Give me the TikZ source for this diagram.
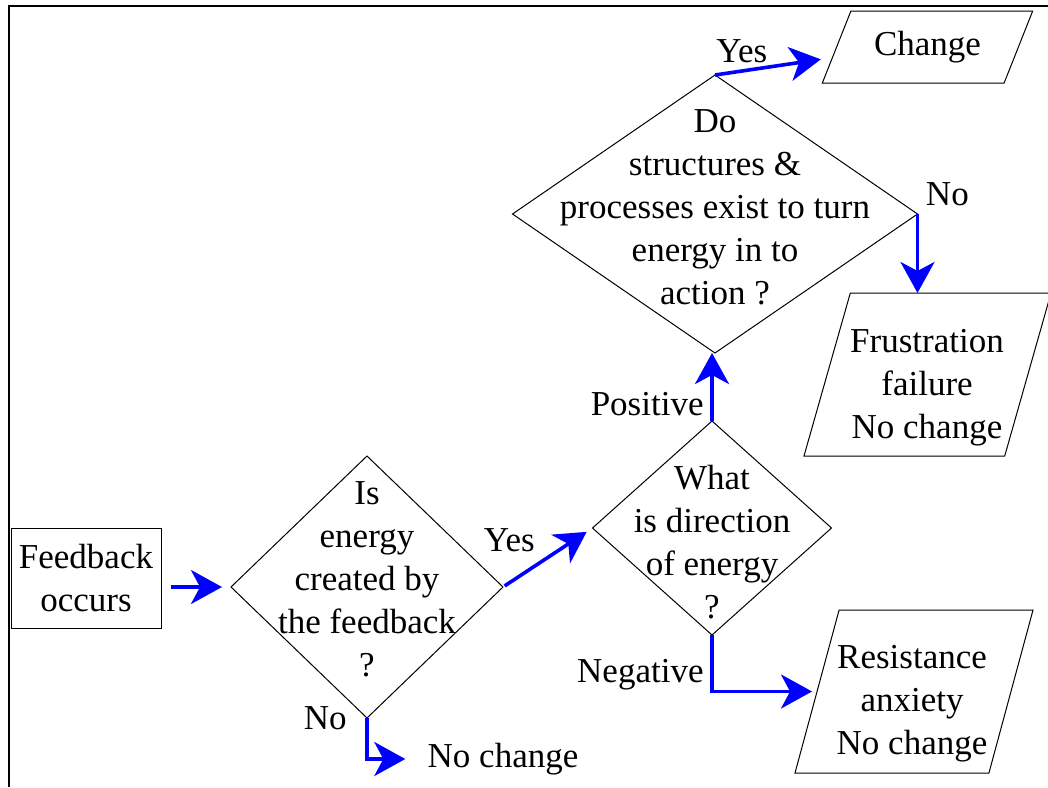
\documentclass[tikz,border=0pt]{standalone}
\usepackage{fontspec}
\setmainfont{Liberation Serif}
\usetikzlibrary{positioning,arrows.meta,shapes.geometric}

\tikzset{
  decision/.style={draw, diamond, inner sep=0pt, outer sep=0pt, line width=0.5pt},
  outcome/.style={draw, trapezium, trapezium stretches=true, inner sep=1pt, outer sep=0pt, line width=0.5pt},
  flow/.style={draw=blue, line width=1.8pt, -{Stealth[length=15.5pt, width=17pt, inset=4.5pt]}},
}

\begin{document}
\begin{tikzpicture}[x=0.5pt, y=-0.5pt, font=\fontsize{17.5}{21.5}\selectfont]
  \useasboundingbox (0,0) rectangle (1048,787);
  \draw[line width=1.3pt] (9,787) -- (9,6) -- (1048,6);

  % start box and the three questions
  \node[draw, line width=0.5pt, minimum width=75pt, minimum height=50pt, inner sep=2pt, align=center] (fb) at (86,578)
       {Feedback\\occurs};
  \node[decision, minimum width=136pt, minimum height=131pt] (q1) at (367,587) {};
  \node[align=center] (q1txt) at (367,579) {Is\\energy\\created by\\the feedback\\?};
  \node[decision, minimum width=119.5pt, minimum height=107pt] (q2) at (712,528) {};
  \node[align=center] (q2txt) at (712,542) {What\\is direction\\of energy\\?};
  \node[decision, minimum width=202.5pt, minimum height=139pt] (q3) at (715,214) {};
  \node[align=center] (q3txt) at (715,207) {Do\\structures \&\\processes exist to turn\\energy in to\\action ?};

  % outcomes
  \node[outcome, trapezium left angle=60, trapezium right angle=120, minimum width=105.5pt, minimum height=36pt] (chg) at (927.5,47)
       {Change};
  \node[outcome, trapezium left angle=73.3, trapezium right angle=106.7, minimum width=123.5pt, minimum height=81.5pt] (fr) at (927.5,374.5) {};
  \node[align=center] (frtxt) at (927,388) {Frustration\\failure\\No change};
  \node[outcome, trapezium left angle=73.6, trapezium right angle=106.4, minimum width=119pt, minimum height=81.5pt] (rs) at (914,691.5) {};
  \node[align=center] (rstxt) at (912,704) {Resistance\\anxiety\\No change};
  \node[inner sep=1pt] (nc) at (503,759) {No change};

  % connectors
  \draw[flow, shorten <=4.5pt, shorten >=4.5pt] (fb.east |- q1.west) -- (q1.west);
  \draw[flow, shorten <=1pt, shorten >=3.5pt] (q1.east) -- node[pos=.45, above left] {Yes} (q2.west);
  \draw[flow, shorten >=10pt] (q1.south) |- node[pos=0, left=6pt] {No} (nc.west);
  \draw[flow] (q2.north) -- node[pos=.25, left] {Positive} (q2.north |- q3.south);
  \draw[flow, shorten >=2.5pt] (q2.south) |- node[pos=.35, left] {Negative} (rs.west);
  \draw[flow, shorten >=8pt] (q3.north) -- node[pos=.22, above] {Yes} ([yshift=-5pt]chg.west);
  \draw[flow] (q3.east) node[above right] {No} -- (q3.east |- fr.north);
\end{tikzpicture}
\end{document}
